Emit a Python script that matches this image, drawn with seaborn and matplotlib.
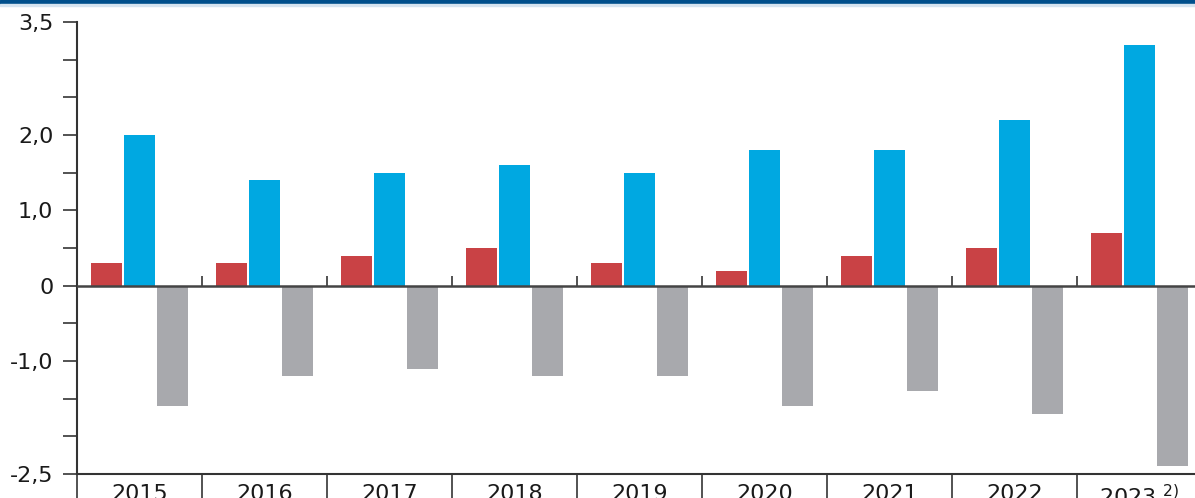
import pandas as pd
import matplotlib
matplotlib.use("Agg")
import matplotlib.pyplot as plt
import seaborn as sns

# DATA

years = ["2015", "2016", "2017", "2018", "2019", "2020", "2021", "2022", "2023"]
year_labels = years[:-1] + ["2023$^{\\;\\,2)}$"]
series_names = ["rot", "blau", "grau"]
red_values = [0.3, 0.3, 0.4, 0.5, 0.3, 0.2, 0.4, 0.5, 0.7]
blue_values = [2.0, 1.4, 1.5, 1.6, 1.5, 1.8, 1.8, 2.2, 3.2]
gray_values = [-1.6, -1.2, -1.1, -1.2, -1.2, -1.6, -1.4, -1.7, -2.4]
ytick_values = [-2.5, -2.0, -1.5, -1.0, -0.5, 0, 0.5, 1.0, 1.5, 2.0, 2.5, 3.0, 3.5]
ytick_labels = ["-2,5", "", "", "-1,0", "", "0", "", "1,0", "", "2,0", "", "", "3,5"]

colors = {"rot": "#C94245", "blau": "#00A8E1", "grau": "#A8A9AD"}

# long table for seaborn
rows = []
for name, vals in zip(series_names, [red_values, blue_values, gray_values]):
    for y, v in zip(years, vals):
        rows.append({"year": y, "series": name, "value": v})
df = pd.DataFrame(rows)

# PLOT

sns.set_style("white")
plt.rcParams["font.family"] = ["DejaVu Sans"]

W, H = 1195, 498
fig = plt.figure(figsize=(W / 100, H / 100), dpi=100)
# axes spans a bit past the right edge, like the reference crop
ax = fig.add_axes([77 / W, 24 / H, 1125 / W, 452 / H])

sns.barplot(data=df, x="year", y="value", hue="series", order=years,
            hue_order=series_names, palette=colors, saturation=1,
            errorbar=None, width=0.792, gap=0.06, linewidth=0,
            legend=False, ax=ax)

ax.set_xlim(-0.5, len(years) - 0.5)
ax.set_ylim(-2.5, 3.5)
ax.set_xlabel("")
ax.set_ylabel("")

# y axis
ax.set_yticks(ytick_values)
ax.set_yticklabels(ytick_labels)
ax.tick_params(axis="y", length=10, width=1.3, color="#444444", pad=7,
               labelsize=16, labelcolor="#1a1a1a", left=True, direction="out")

# x labels below bottom line, separators between groups
ax.set_xticks(range(len(years)))
ax.set_xticklabels(year_labels)
ax.tick_params(axis="x", length=0, pad=7, labelsize=16, labelcolor="#1a1a1a")
bounds = [i - 0.5 for i in range(len(years) + 1)]
ax.set_xticks(bounds, minor=True)
ax.tick_params(axis="x", which="minor", length=25, width=1.3, color="#444444",
               direction="out", bottom=True)

for side in ["top", "right"]:
    ax.spines[side].set_visible(False)
for side in ["left", "bottom"]:
    ax.spines[side].set_color("#333333")
    ax.spines[side].set_linewidth(1.5)

# zero line with small ticks on the group boundaries
ax.axhline(0, color="#444444", lw=1.8, zorder=3)
ax.vlines(bounds[1:-1], 0, 0.13, color="#444444", lw=1.3, zorder=3)

# dark band on top
fig.patches.append(plt.Rectangle((0, 1 - 4 / H), 1, 4 / H, transform=fig.transFigure,
                                 color="#004F8C", zorder=5))
fig.patches.append(plt.Rectangle((0, 1 - 6 / H), 1, 2 / H, transform=fig.transFigure,
                                 color="#D6E4F0", zorder=5))

fig.savefig("out.png", dpi=100)
